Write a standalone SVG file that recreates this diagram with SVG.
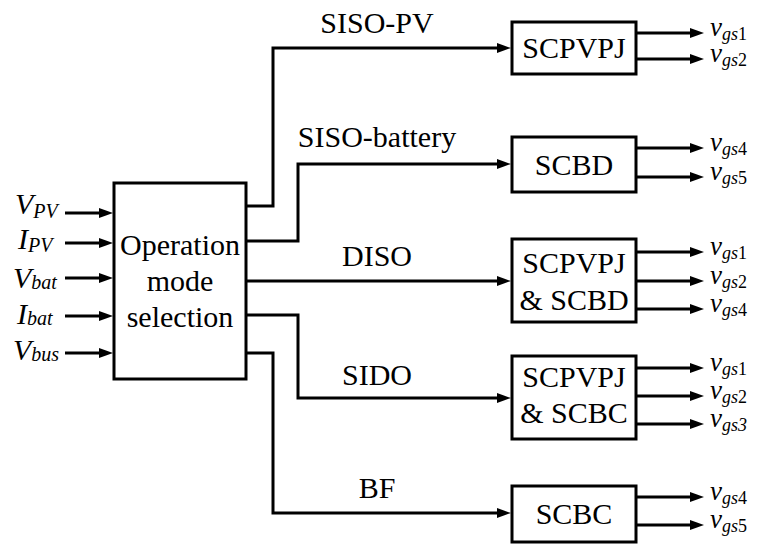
<svg xmlns="http://www.w3.org/2000/svg" width="759" height="547" viewBox="0 0 759 547" font-family="'Liberation Serif', 'Times New Roman', serif">
<defs>
<marker id="ah" viewBox="0 0 14 10" refX="6" refY="5" markerWidth="14" markerHeight="10" markerUnits="userSpaceOnUse" orient="auto">
<path d="M0,0 L14,5 L0,10 z" fill="#000"/>
</marker>
<style>
.box{fill:#fff;stroke:#000;stroke-width:3}
.ar{fill:none;stroke:#000;stroke-width:3;marker-end:url(#ah)}
.t{font-size:30px;fill:#000}
.o{font-size:27px;fill:#000;font-style:italic}
.c{text-anchor:middle}
.it{font-style:italic}
.sub{font-size:20px}
.s2{font-size:18px}
.up{font-style:normal}
</style>
</defs>
<rect width="759" height="547" fill="#fff"/>
<g id="inputs">
<text class="t it" x="15" y="214">V<tspan class="sub" dy="4">PV</tspan></text>
<text class="t it" x="18" y="249">I<tspan class="sub" dy="3">PV</tspan></text>
<text class="t it" x="13" y="288">V<tspan class="sub" dy="1">bat</tspan></text>
<text class="t it" x="17" y="324">I<tspan class="sub" dy="1">bat</tspan></text>
<text class="t it" x="13" y="360">V<tspan class="sub" dy="1">bus</tspan></text>
</g>
<g id="connectors">
<path class="ar" d="M65,213 H105"/>
<path class="ar" d="M65,243 H105"/>
<path class="ar" d="M65,278 H105"/>
<path class="ar" d="M65,316 H105"/>
<path class="ar" d="M65,353 H105"/>
<path class="ar" d="M246,206 H273 V48 H503"/>
<path class="ar" d="M246,241 H298 V164 H503"/>
<path class="ar" d="M246,281 H503"/>
<path class="ar" d="M246,315 H298 V398 H503"/>
<path class="ar" d="M246,353 H273 V513 H503"/>
<path class="ar" d="M636,33 H696"/>
<path class="ar" d="M636,59 H696"/>
<path class="ar" d="M636,148 H696"/>
<path class="ar" d="M636,177 H696"/>
<path class="ar" d="M636,252 H696"/>
<path class="ar" d="M636,281 H696"/>
<path class="ar" d="M636,309 H696"/>
<path class="ar" d="M636,368 H696"/>
<path class="ar" d="M636,396 H696"/>
<path class="ar" d="M636,424 H696"/>
<path class="ar" d="M636,497 H696"/>
<path class="ar" d="M636,525 H696"/>
</g>
<g id="labels">
<text class="t c" x="377" y="33">SISO-PV</text>
<text class="t c" x="377" y="147">SISO-battery</text>
<text class="t c" x="377" y="266">DISO</text>
<text class="t c" x="377" y="385">SIDO</text>
<text class="t c" x="377" y="498">BF</text>
</g>
<g id="oms">
<rect class="box" x="114" y="183" width="132" height="196"/>
<text class="t c" x="180" y="255">Operation</text>
<text class="t c" x="180" y="291">mode</text>
<text class="t c" x="180" y="327">selection</text>
</g>
<g id="scpvpj">
<rect class="box" x="512" y="22" width="124" height="52"/>
<text class="t c" x="574" y="58">SCPVPJ</text>
</g>
<g id="scbd">
<rect class="box" x="512" y="137" width="124" height="55"/>
<text class="t c" x="574" y="175">SCBD</text>
</g>
<g id="scpvpj-scbd">
<rect class="box" x="512" y="239" width="124" height="83"/>
<text class="t c" x="574" y="273">SCPVPJ</text>
<text class="t c" x="574" y="310">&amp; SCBD</text>
</g>
<g id="scpvpj-scbc">
<rect class="box" x="512" y="356" width="124" height="83"/>
<text class="t c" x="574" y="387">SCPVPJ</text>
<text class="t c" x="574" y="423">&amp; SCBC</text>
</g>
<g id="scbc">
<rect class="box" x="512" y="486" width="124" height="56"/>
<text class="t c" x="574" y="524">SCBC</text>
</g>
<g id="outputs">
<text class="o" x="710" y="36">v<tspan class="s2" dy="4">gs</tspan><tspan class="s2 up">1</tspan></text>
<text class="o" x="710" y="62">v<tspan class="s2" dy="4">gs</tspan><tspan class="s2 up">2</tspan></text>
<text class="o" x="710" y="151">v<tspan class="s2" dy="4">gs</tspan><tspan class="s2 up">4</tspan></text>
<text class="o" x="710" y="180">v<tspan class="s2" dy="4">gs</tspan><tspan class="s2 up">5</tspan></text>
<text class="o" x="710" y="255">v<tspan class="s2" dy="4">gs</tspan><tspan class="s2 up">1</tspan></text>
<text class="o" x="710" y="284">v<tspan class="s2" dy="4">gs</tspan><tspan class="s2 up">2</tspan></text>
<text class="o" x="710" y="312">v<tspan class="s2" dy="4">gs</tspan><tspan class="s2 up">4</tspan></text>
<text class="o" x="710" y="371">v<tspan class="s2" dy="4">gs</tspan><tspan class="s2 up">1</tspan></text>
<text class="o" x="710" y="399">v<tspan class="s2" dy="4">gs</tspan><tspan class="s2 up">2</tspan></text>
<text class="o" x="710" y="427">v<tspan class="s2" dy="4">gs3</tspan></text>
<text class="o" x="710" y="500">v<tspan class="s2" dy="4">gs</tspan><tspan class="s2 up">4</tspan></text>
<text class="o" x="710" y="528">v<tspan class="s2" dy="4">gs</tspan><tspan class="s2 up">5</tspan></text>
</g>
</svg>
